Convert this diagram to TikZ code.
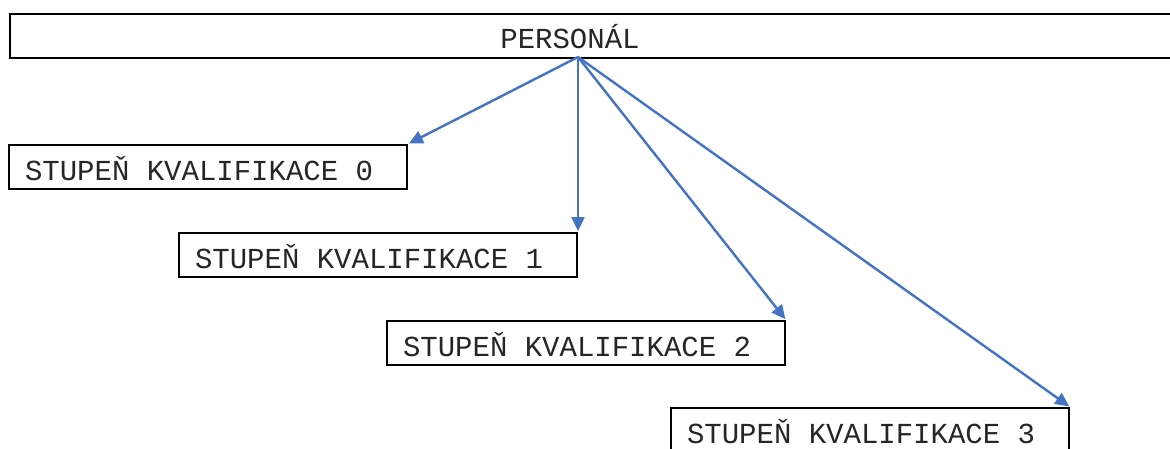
\documentclass[tikz,border=0pt]{standalone}
\usepackage{fontspec}
\newfontfamily\boxmono{Liberation Mono}
\usepackage{xcolor}
\usetikzlibrary{arrows.meta,positioning}

\definecolor{linkblue}{HTML}{4472C4}
\newcommand{\boxfont}{\fontsize{29}{30}\boxmono}
\newcommand{\gap}{\hspace*{0.6em}}

\begin{document}
\begin{tikzpicture}[x=1pt, y=-1pt,
level/.style={rectangle, draw, line width=2pt, minimum height=44pt, inner ysep=0pt,
  text height=26pt, text depth=0pt, font=\boxfont, text=black!85},
stage/.style={level, anchor=north west, inner xsep=16pt, text width=366pt, align=left},
link/.style={-{Triangle[length=14pt, width=13pt]}, line width=2.4pt, linkblue, shorten >=1pt}
]

\useasboundingbox[fill=white] (0,0) rectangle (1170,448);
\clip (0,0) rectangle (1170,448);

% Top bar
\node[level, anchor=north west, minimum width=1200pt] (bar) at (9,13) {};
\node[font=\boxfont, text=black!85, anchor=base, inner sep=0pt] (personal) at (570,48) {PERSONÁL};
\coordinate (hub) at (578,57);

% Qualification levels
\node[stage] (q0) at (8,144) {STUPEŇ\gap KVALIFIKACE\gap 0};
\node[stage] (q1) at (178,232) {STUPEŇ\gap KVALIFIKACE\gap 1};
\node[stage] (q2) at (386,320) {STUPEŇ\gap KVALIFIKACE\gap 2};
\node[stage] (q3) at (670,407) {STUPEŇ\gap KVALIFIKACE\gap 3};

% Arrows
\draw[link] (hub) -- (q0.north east);
\draw[link] (hub) -- (q1.north east);
\draw[link] (hub) -- (q2.north east);
\draw[link] (hub) -- (q3.north east);

\end{tikzpicture}
\end{document}
